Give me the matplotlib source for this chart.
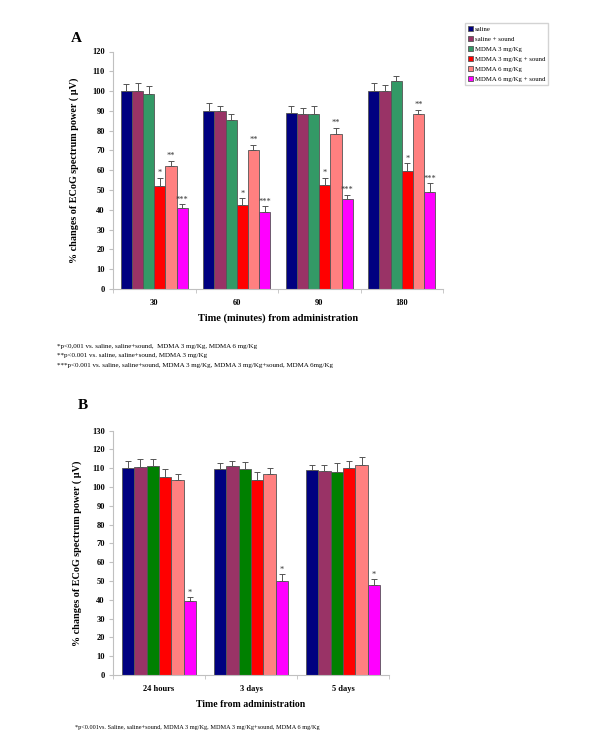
import numpy as np
import matplotlib
matplotlib.use("Agg")
import matplotlib.pyplot as plt
from matplotlib.patches import Patch

plt.rcParams['font.family'] = ['Liberation Serif', 'DejaVu Serif']

groups = ["saline", "saline + sound", "MDMA 3 mg/Kg", "MDMA 3 mg/Kg + sound",
          "MDMA 6 mg/Kg", "MDMA 6 mg/Kg + sound"]

# panel A
times_a = ["30", "60", "90", "180"]
vals_a = [[100, 90, 89, 100],
          [100, 90, 88.5, 100],
          [98.5, 85.2, 88.5, 105],
          [52.2, 42.2, 52.5, 59.4],
          [62.3, 70.4, 78.3, 88.4],
          [41.1, 38.7, 45.4, 49.1]]
errs_a = [[3.7, 4.0, 3.4, 4.2],
          [4.0, 2.5, 3.2, 3.2],
          [4.0, 3.0, 3.9, 2.7],
          [4.0, 3.7, 3.7, 4.2],
          [2.5, 2.5, 3.2, 2.2],
          [1.8, 3.0, 2.2, 4.4]]
stars_a = ["", "", "", "*", "**", "***"]

# panel B
times_b = ["24 hours", "3 days", "5 days"]
vals_b = [[110.3, 109.4, 109.2],
          [110.8, 111.3, 108.3],
          [111.3, 109.8, 108.0],
          [105.5, 104.0, 110.3],
          [103.5, 106.7, 111.5],
          [39.2, 49.8, 47.9]]
errs_b = [[3.7, 3.2, 2.8],
          [4.2, 2.4, 3.7],
          [3.9, 3.7, 5.0],
          [3.9, 3.9, 3.7],
          [3.2, 3.7, 4.3],
          [2.3, 3.7, 3.0]]
stars_b = ["", "", "", "", "", "*"]

colors_a = ["#000080", "#993366", "#339966", "#FF0000", "#FF8080", "#FF00FF"]
colors_b = ["#000080", "#993366", "#008000", "#FF0000", "#FF8080", "#FF00FF"]

ylab = "% changes of ECoG spectrum power ( \u00b5V)"
W, H = 600, 748


def panel(ax, cats, vals, errs, stars, colors, ymax):
    n = len(vals)
    x = np.arange(len(cats))
    w = 0.81 / n
    for i in range(n):
        xi = x - 0.405 + w * (i + 0.5)
        ax.bar(xi, vals[i], w, color=colors[i], edgecolor="#555555", linewidth=0.6, zorder=2)
        ax.errorbar(xi, vals[i], yerr=[np.zeros(len(cats)), errs[i]], fmt="none",
                    ecolor="#555555", elinewidth=0.7, capsize=2, capthick=0.7, zorder=3)
        if stars[i]:
            for xx, v, e in zip(xi, vals[i], errs[i]):
                ax.text(xx, v + e + 0.3, stars[i], ha="center", va="bottom",
                        fontsize=6, color="#333333")
    ax.set_xlim(-0.5, len(cats) - 0.5)
    ax.set_ylim(0, ymax)
    ax.set_yticks(np.arange(0, ymax + 1, 10))
    ax.set_xticks(x)
    ax.set_xticklabels(cats, fontsize=6, fontweight="bold")
    ax.set_xticks(np.arange(-0.5, len(cats), 1), minor=True)
    ax.tick_params(axis="x", which="major", length=0, pad=7)
    ax.tick_params(axis="x", which="minor", length=3, color="#c0c0c0")
    ax.tick_params(axis="y", length=3, color="#c0c0c0", labelsize=6, pad=3)
    for lab in ax.get_yticklabels():
        lab.set_fontweight("bold")
    for s in ["top", "right"]:
        ax.spines[s].set_visible(False)
    for s in ["left", "bottom"]:
        ax.spines[s].set_color("#c0c0c0")
        ax.spines[s].set_linewidth(0.8)


fig = plt.figure(figsize=(6, 7.48), dpi=100)

axA = fig.add_axes([113 / W, 1 - 289 / H, 330 / W, 237.5 / H])
panel(axA, times_a, vals_a, errs_a, stars_a, colors_a, 120)
axA.set_xlabel("Time (minutes) from administration", fontsize=7.5, fontweight="bold", labelpad=5)
axA.set_ylabel(ylab, fontsize=7.3, fontweight="bold", labelpad=9)
fig.text(71 / W, 1 - 38 / H, "A", fontsize=11, fontweight="bold", va="center")

handles = [Patch(facecolor=c, edgecolor="#555555", linewidth=0.6) for c in colors_a]
fig.legend(handles, groups, loc="upper left", bbox_to_anchor=(465 / W, 1 - 23 / H),
           fontsize=4.9, frameon=True, fancybox=False, edgecolor="#c8c8c8",
           handlelength=0.8, handleheight=0.8, handletextpad=0.3, labelspacing=0.6,
           borderpad=0.4, borderaxespad=0)

notes_a = ["*p<0,001 vs. saline, saline+sound,  MDMA 3 mg/Kg, MDMA 6 mg/Kg",
           "**p<0.001 vs. saline, saline+sound, MDMA 3 mg/Kg",
           "***p<0.001 vs. saline, saline+sound, MDMA 3 mg/Kg, MDMA 3 mg/Kg+sound, MDMA 6mg/Kg"]
for k, t in enumerate(notes_a):
    fig.text(57 / W, 1 - (346 + 10 * k) / H, t, fontsize=5, va="center")

axB = fig.add_axes([113 / W, 1 - 675 / H, 276 / W, 244.3 / H])
panel(axB, times_b, vals_b, errs_b, stars_b, colors_b, 130)
axB.set_xlabel("Time from administration", fontsize=7, fontweight="bold", labelpad=5)
axB.set_ylabel(ylab, fontsize=7.3, fontweight="bold", labelpad=7)
fig.text(78 / W, 1 - 405 / H, "B", fontsize=11, fontweight="bold", va="center")
fig.text(75 / W, 1 - 727 / H,
         "*p<0.001vs. Saline, saline+sound, MDMA 3 mg/Kg, MDMA 3 mg/Kg+sound, MDMA 6 mg/Kg",
         fontsize=4.5, va="center")

fig.savefig("out.png", dpi=100, facecolor="white")
